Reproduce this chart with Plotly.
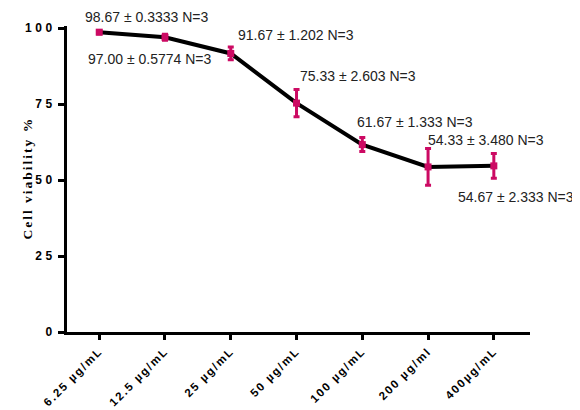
import plotly.graph_objects as go

categories = ["6.25 µg/mL", "12.5 µg/mL", "25 µg/mL", "50 µg/mL", "100 µg/mL", "200 µg/ml", "400µg/mL"]
means = [98.67, 97.00, 91.67, 75.33, 61.67, 54.33, 54.67]
sems = ["0.3333", "0.5774", "1.202", "2.603", "1.333", "3.480", "2.333"]
n_values = [3, 3, 3, 3, 3, 3, 3]
sds = [0.577, 1.0, 2.08, 4.51, 2.31, 6.03, 4.04]
y_ticks = [0, 25, 50, 75, 100]

label_shifts = [(47, 15), (-15, -22), (65, 18), (61, 27), (53, 23), (58, 27), (22, -31)]

MAG = "#CC0A63"
xs = list(range(len(categories)))

def spaced(t, sp=2.5):
    return f'<span style="letter-spacing:{sp}px">{t}</span>'

fig = go.Figure()
fig.add_trace(go.Scatter(
    x=xs, y=means, mode="lines+markers",
    line=dict(color="black", width=4),
    marker=dict(symbol="square", size=7, color=MAG),
    error_y=dict(type="data", array=sds, visible=True, color=MAG, thickness=3, width=3),
    showlegend=False, cliponaxis=False,
))

for i, (m, s, n) in enumerate(zip(means, sems, n_values)):
    dx, dy = label_shifts[i]
    fig.add_annotation(
        x=xs[i], y=m, xref="x", yref="y", showarrow=False,
        text=f"{m:.2f} ± {s} N={n}",
        xshift=dx, yshift=dy,
        font=dict(family="Arial, Liberation Sans", size=14, color="#222222"),
    )

fig.add_annotation(
    x=0, y=0.503, xref="paper", yref="paper", showarrow=False,
    xshift=-49, textangle=-90,
    text=spaced("Cell viability %", 2),
    font=dict(family="Times New Roman, Liberation Serif", size=13.5, color="black", weight="bold"),
)

fig.update_layout(
    width=572, height=402,
    margin=dict(l=59, r=50, t=18, b=78),
    paper_bgcolor="white", plot_bgcolor="white",
    xaxis=dict(
        range=[-0.49, 6.55], tickmode="array", tickvals=xs,
        ticktext=[spaced(c, 1.8) for c in categories],
        tickangle=-45, showgrid=False, zeroline=False, automargin=False,
        showline=True, linecolor="black", linewidth=3,
        ticks="outside", ticklen=5, tickwidth=3, tickcolor="black",
        tickfont=dict(family="Arial, Liberation Sans", size=11.5, color="black", weight="bold"),
    ),
    yaxis=dict(
        range=[0, 100.7], tickmode="array", tickvals=y_ticks,
        ticktext=[spaced(str(v), 3.5) for v in y_ticks],
        showgrid=False, zeroline=False, automargin=False,
        showline=True, linecolor="black", linewidth=3,
        ticks="outside", ticklen=6, tickwidth=3, tickcolor="black",
        tickfont=dict(family="Arial, Liberation Sans", size=12, color="black", weight="bold"),
    ),
)

fig.write_html("out.html")
